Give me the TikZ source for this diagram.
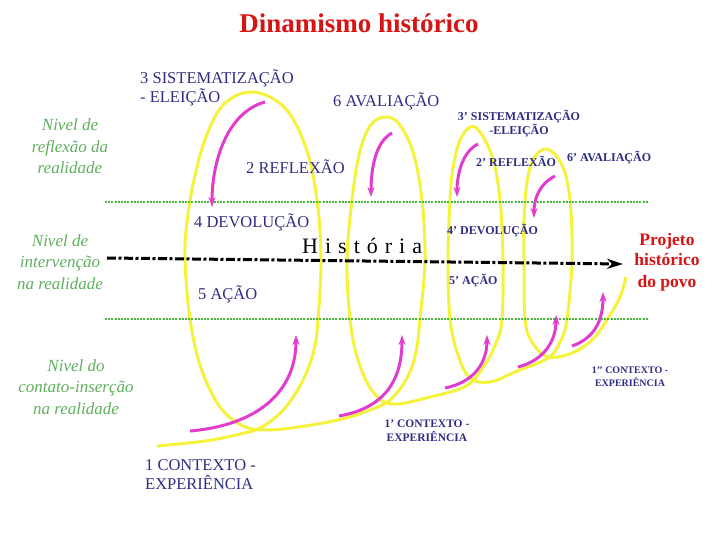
\documentclass[tikz,border=0pt]{standalone}
\usepackage{fontspec}
\setmainfont{Liberation Serif}
\usetikzlibrary{arrows.meta}
\definecolor{azul}{RGB}{45,45,130}
\definecolor{verdetexto}{RGB}{95,175,95}
\definecolor{verdeponto}{RGB}{70,185,60}
\definecolor{amarelo}{RGB}{245,242,60}
\definecolor{rosa}{RGB}{225,60,205}
\definecolor{vermelho}{RGB}{215,20,20}

\begin{document}
\begin{tikzpicture}[x=1pt, y=-1pt, >={Stealth[length=10pt,width=7pt]},
  etapa/.style={text=azul, inner sep=0pt, anchor=base west, align=left,
    font=\fontsize{16.5}{19}\selectfont},
  etapalinha/.style={text=azul, inner sep=0pt, anchor=base west, align=center,
    font=\bfseries\fontsize{12}{14}\selectfont},
  nivel/.style={text=verdetexto, inner sep=0pt, anchor=base, align=center,
    font=\itshape\fontsize{17}{21.5}\selectfont},
  faixa/.style={verdeponto, line width=2pt, dash pattern=on 2pt off 1.2pt},
  espiral/.style={amarelo, line width=3pt},
  seta/.style={->, rosa, line width=3pt}]
  \useasboundingbox (0,0) rectangle (720,540);
  % Espiral da historia
  \draw[espiral] plot[smooth, tension=0.6] coordinates {
    (157,446) (205,441) (240,434) (262,427) (285,408) (303,380) (314,350)
    (318,319) (321,260) (317,200) (306,148) (285,108) (253,92) (224,104)
    (206,137) (194,180) (187,222) (185,260) (190,319) (201,368) (220,407)
    (243,426) (268,430) (305,426) (342,419) (370,410) (390,400) (407,378)
    (416,352) (420,319) (425,260) (422,200) (413,152) (399,124) (385,117)
    (370,126) (359,155) (352,200) (347,260) (350,319) (358,360) (373,392)
    (393,404) (430,397) (466,386) (484,366) (496,343) (502,319) (503,260)
    (500,200) (492,156) (475,127) (461,138) (453,168) (450,200) (448,260)
    (450,319) (458,355) (470,378) (490,382) (515,372) (548,358) (560,342)
    (567,319) (572,260) (570,200) (562,165) (547,149) (534,158) (527,182)
    (524,220) (524,260) (525,319) (532,342) (548,357) (572,353) (592,340)
    (607,320) (620,297) (626,277)};
  % Niveis
  \draw[faixa] (105,202) -- (648,202);
  \draw[faixa] (105,319) -- (648,319);
  % Eixo da historia
  \coordinate (hist0) at (107,258);
  \coordinate (hist1) at (623,264);
  \draw[line width=3pt, dash pattern=on 9pt off 2.5pt on 3pt off 2.5pt,
    -{Stealth[length=16pt,width=10pt]}] (hist0) -- (hist1);
  % Setas de descida
  \draw[seta] (265,102) .. controls (228,112) and (212,160) .. (212,207);
  \draw[seta] (392,133) .. controls (375,142) and (371,170) .. (371,197);
  \draw[seta] (478,144) .. controls (462,152) and (457,175) .. (457,197);
  \draw[seta] (555,176) .. controls (538,185) and (534,200) .. (534,218);
  % Setas de subida
  \draw[seta] (190,431) .. controls (260,425) and (296,390) .. (296,335);
  \draw[seta] (339,416) .. controls (385,408) and (402,380) .. (402,335);
  \draw[seta] (445,388) .. controls (475,382) and (487,362) .. (487,335);
  \draw[seta] (518,367) .. controls (545,360) and (556,340) .. (556,315);
  \draw[seta] (572,346) .. controls (595,338) and (603,320) .. (603,292);
  % Textos
  \node[text=vermelho, anchor=base, font=\bfseries\fontsize{27}{30}\selectfont]
    (titulo) at (359,33) {Dinamismo histórico};
  \node[nivel] (reflexao) at (70,174) {Nivel de\\reflexão da\\realidade};
  \node[nivel] (intervencao) at (60,289) {Nivel de\\intervenção\\na realidade};
  \node[nivel] (contato) at (76,414) {Nivel do\\contato-inserção\\na realidade};
  \node[etapa] (sist) at (140,103) {3 SISTEMATIZAÇÃO\\- ELEIÇÃO};
  \node[etapa] (aval) at (333,107) {6 AVALIAÇÃO};
  \node[etapa] (refl) at (246,174) {2 REFLEXÃO};
  \node[etapa] (devol) at (194,227) {4 DEVOLUÇÃO};
  \node[etapa] (acao) at (198,299) {5 AÇÃO};
  \node[etapa] (cont) at (145,489) {1 CONTEXTO -\\EXPERIÊNCIA};
  \node[etapalinha, anchor=base] (sistb) at (519,135) {3’ SISTEMATIZAÇÃO\\-ELEIÇÃO};
  \node[etapalinha] (reflb) at (476,167) {2’ REFLEXÃO};
  \node[etapalinha] (avalb) at (567,162) {6’ AVALIAÇÃO};
  \node[etapalinha] (devolb) at (447,234) {4’ DEVOLUÇÃO};
  \node[etapalinha] (acaob) at (449,284) {5’ AÇÃO};
  \node[etapalinha, anchor=base, font=\bfseries\fontsize{11.5}{14}\selectfont]
    (contb) at (427,441) {1’ CONTEXTO -\\EXPERIÊNCIA};
  \node[etapalinha, anchor=base, font=\bfseries\fontsize{10}{13}\selectfont]
    (contc) at (630,386) {1’’ CONTEXTO -\\EXPERIÊNCIA};
  \node[text=black, inner sep=0pt, anchor=base west, font=\fontsize{22}{24}\selectfont]
    (historia) at (302,253) {H\hspace{7pt}i\hspace{7pt}s\hspace{7pt}t\hspace{7pt}ó\hspace{7pt}r\hspace{7pt}i\hspace{7pt}a};
  \node[text=vermelho, inner sep=0pt, anchor=base, align=center,
    font=\bfseries\fontsize{17.5}{21}\selectfont]
    (projeto) at (667,287) {Projeto\\histórico\\do povo};
\end{tikzpicture}
\end{document}
